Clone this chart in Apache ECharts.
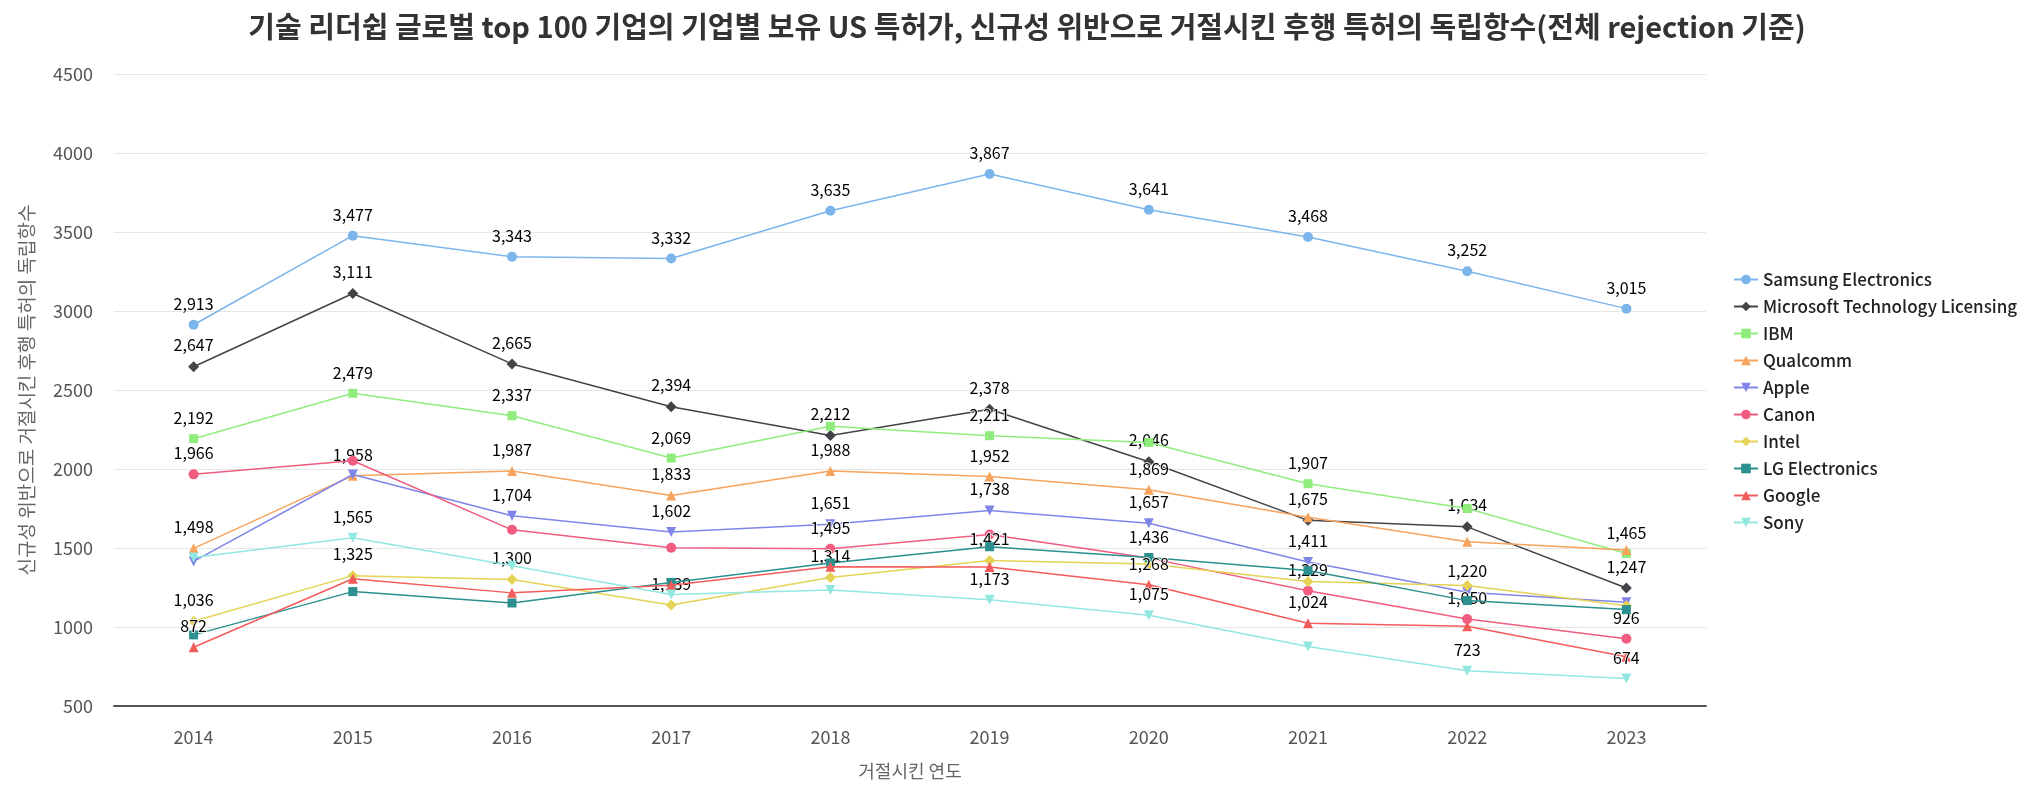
<!DOCTYPE html>
<html>
<head>
<meta charset="utf-8">
<script src="https://cdn.jsdelivr.net/npm/echarts@6/dist/echarts.min.js"></script>
<style>
html,body{margin:0;padding:0;background:#fff;}
#chart{width:2028px;height:785px;}
</style>
</head>
<body>
<div id="chart"></div>
<script>
const titleText = '기술 리더쉽 글로벌 top 100 기업의 기업별 보유 US 특허가, 신규성 위반으로 거절시킨 후행 특허의 독립항수(전체 rejection 기준)';
const xAxisName = '거절시킨 연도';
const yAxisName = '신규성 위반으로 거절시킨 후행 특허의 독립항수';
const years = ['2014','2015','2016','2017','2018','2019','2020','2021','2022','2023'];
const yTicks = [500, 1000, 1500, 2000, 2500, 3000, 3500, 4000, 4500];

const seriesNames = ['Samsung Electronics','Microsoft Technology Licensing','IBM','Qualcomm','Apple','Canon','Intel','LG Electronics','Google','Sony'];

const samsung   = [2913, 3477, 3343, 3332, 3635, 3867, 3641, 3468, 3252, 3015];
const microsoft = [2647, 3111, 2665, 2394, 2212, 2378, 2046, 1675, 1634, 1247];
const ibm       = [2192, 2479, 2337, 2069, 2270, 2211, 2168, 1907, 1750, 1465];
const qualcomm  = [1498, 1958, 1987, 1833, 1988, 1952, 1869, 1695, 1540, 1488];
const apple     = [1415, 1965, 1704, 1602, 1651, 1738, 1657, 1411, 1220, 1157];
const canon     = [1966, 2052, 1615, 1502, 1495, 1585, 1436, 1229, 1050, 926];
const intel     = [1036, 1325, 1300, 1139, 1314, 1421, 1398, 1288, 1262, 1135];
const lg        = [950, 1224, 1152, 1282, 1405, 1508, 1440, 1357, 1167, 1110];
const google    = [872, 1305, 1216, 1265, 1381, 1379, 1268, 1024, 1005, 812];
const sony      = [1440, 1565, 1388, 1205, 1234, 1173, 1075, 877, 723, 674];

// which data labels are visible in the reference (1 = shown)
const samsungLabels   = [1,1,1,1,1,1,1,1,1,1];
const microsoftLabels = [1,1,1,1,1,1,1,1,1,1];
const ibmLabels       = [1,1,1,1,0,1,0,1,0,1];
const qualcommLabels  = [1,1,1,1,1,1,1,0,0,0];
const appleLabels     = [0,0,1,1,1,1,1,1,1,0];
const canonLabels     = [1,0,0,0,1,0,1,1,1,1];
const intelLabels     = [1,1,1,1,1,1,0,0,0,0];
const lgLabels        = [0,0,0,0,0,0,0,0,0,0];
const googleLabels    = [1,0,0,0,0,0,1,1,0,0];
const sonyLabels      = [0,1,0,0,0,1,1,0,1,1];

const allValues = [samsung, microsoft, ibm, qualcomm, apple, canon, intel, lg, google, sony];
const allLabels = [samsungLabels, microsoftLabels, ibmLabels, qualcommLabels, appleLabels, canonLabels, intelLabels, lgLabels, googleLabels, sonyLabels];

const colors = ['#7cb5ec','#434348','#90ed7d','#f7a35c','#8085e9','#f15c80','#e4d354','#2b908f','#f45b5b','#91e8e1'];
const symbols = ['circle','diamond','rect','triangle','triangle','circle','diamond','rect','triangle','triangle'];
const rotations = [0,0,0,0,180,0,0,0,0,180];
const sizes = [10,11,9,10,10,10,11,9,10,10];

const FONT = '"Noto Sans CJK KR", "Noto Sans", sans-serif';

const series = seriesNames.map((name, i) => ({
  name: name,
  type: 'line',
  data: allValues[i].map((v, j) => ({ value: v, label: { show: !!allLabels[i][j] } })),
  symbol: symbols[i],
  symbolRotate: rotations[i],
  symbolSize: sizes[i],
  showAllSymbol: true,
  lineStyle: { width: 1.5, color: colors[i] },
  itemStyle: { color: colors[i] },
  emphasis: { disabled: true },
  animation: false,
  label: {
    position: 'top',
    distance: 8,
    color: '#000',
    fontFamily: FONT,
    fontSize: 16,
    textBorderColor: '#fff',
    textBorderWidth: 1.5,
    formatter: p => Number(p.value).toLocaleString('en-US')
  },
  z: 2 + i
}));

const chart = echarts.init(document.getElementById('chart'), null, { renderer: 'canvas' });
chart.setOption({
  backgroundColor: '#fff',
  animation: false,
  color: colors,
  title: {
    text: titleText,
    left: 1022,
    textAlign: 'center',
    top: 7,
    textStyle: { fontFamily: FONT, fontSize: 29, fontWeight: 'bold', color: '#333' }
  },
  legend: {
    orient: 'vertical',
    left: 1733,
    top: 271,
    padding: 0,
    itemGap: 10,
    itemWidth: 24,
    itemHeight: 12,
    data: seriesNames,
    textStyle: { fontFamily: FONT, fontSize: 17, fontWeight: 500, color: '#222' }
  },
  grid: { left: 114, right: 322, top: 74, bottom: 78, containLabel: false },
  xAxis: {
    type: 'category',
    data: years,
    boundaryGap: true,
    name: xAxisName,
    nameLocation: 'middle',
    nameGap: 56,
    nameTextStyle: { fontFamily: FONT, fontSize: 18, color: '#666' },
    axisLine: { lineStyle: { color: '#555', width: 2 } },
    axisTick: { show: false },
    axisLabel: { margin: 22, fontFamily: FONT, fontSize: 18, color: '#555' },
    splitLine: { show: false }
  },
  yAxis: {
    type: 'value',
    min: yTicks[0],
    max: yTicks[yTicks.length - 1],
    interval: yTicks[1] - yTicks[0],
    name: yAxisName,
    nameLocation: 'middle',
    nameGap: 78,
    nameRotate: 90,
    nameTextStyle: { fontFamily: FONT, fontSize: 19, color: '#666' },
    axisLine: { show: false },
    axisTick: { show: false },
    axisLabel: { margin: 21, fontFamily: FONT, fontSize: 18, color: '#555', formatter: v => String(v) },
    splitLine: { lineStyle: { color: '#e6e6e6', width: 1 } }
  },
  series: series
});
</script>
</body>
</html>
